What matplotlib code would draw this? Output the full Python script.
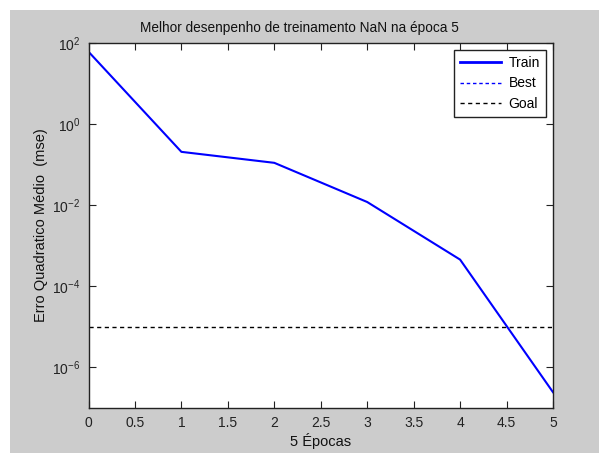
import numpy as np
import matplotlib.pyplot as plt
from matplotlib.patches import Rectangle

plt.rcParams['font.family'] = ['Liberation Sans', 'DejaVu Sans']
plt.rcParams['mathtext.fontset'] = 'custom'
plt.rcParams['mathtext.rm'] = 'Liberation Sans'
plt.rcParams['mathtext.it'] = 'Liberation Sans:italic'
plt.rcParams['mathtext.bf'] = 'Liberation Sans:bold'

# Training performance per epoch
epochs = [0, 1, 2, 3, 4, 5]
train_mse = [61.0, 0.207, 0.111, 0.012, 4.56e-4, 2.45e-7]
best_epoch = [5]
best_mse = [np.nan]
goal_mse = 1e-5

title_text = "Melhor desenpenho de treinamento NaN na época 5"
x_label = "5 Épocas"
y_label = "Erro Quadratico Médio  (mse)"
x_ticks = [0, 0.5, 1, 1.5, 2, 2.5, 3, 3.5, 4, 4.5, 5]
x_tick_labels = ['0', '0.5', '1', '1.5', '2', '2.5', '3', '3.5', '4', '4.5', '5']
y_ticks = [1e-6, 1e-4, 1e-2, 1e0, 1e2]

W, H = 599, 453
fig = plt.figure(figsize=(W / 100, H / 100), dpi=100)
fig.patch.set_facecolor('white')
fig.patches.append(Rectangle((10 / W, 0), 1 - 10 / W, (H - 10) / H,
                             transform=fig.transFigure, facecolor='#cccccc',
                             edgecolor='none', zorder=-10))

left, right, top, bottom = 88.5, 553, 43, 408
ax = fig.add_axes([left / W, (H - bottom) / H, (right - left) / W, (bottom - top) / H])
ax.set_facecolor('white')

ax.plot(epochs, train_mse, color='#0000ff', lw=1.5, label='Train')
ax.plot(best_epoch, best_mse, color='#0000ff', lw=1.0, ls=(0, (2.5, 2)), label='Best')
ax.axhline(goal_mse, color='black', lw=1.0, ls=(0, (3, 2.5)), label='Goal')

ax.set_yscale('log')
ax.set_xlim(0, 5)
ax.set_ylim(1e-7, 1e2)
ax.set_xticks(x_ticks)
ax.set_xticklabels(x_tick_labels)
ax.set_yticks(y_ticks)
ax.yaxis.set_minor_locator(plt.NullLocator())

ax.tick_params(direction='in', length=5, width=0.8, top=True, right=True,
               labelsize=10, colors='#222222', labelcolor='#222222', pad=6)
for s in ax.spines.values():
    s.set_color('#222222')
    s.set_linewidth(1.0)

ax.set_title(title_text, fontsize=9.8, color='#111111', pad=8, x=0.455)
ax.set_xlabel(x_label, fontsize=10.5, color='#111111', labelpad=2)
ax.set_ylabel(y_label, fontsize=10.5, color='#111111', labelpad=3)

leg = ax.legend(loc='upper right', fontsize=10, frameon=True, fancybox=False,
                framealpha=1, edgecolor='#222222', borderpad=0.45,
                handlelength=3.0, handletextpad=0.5, labelspacing=0.45,
                borderaxespad=0.5)
leg.get_frame().set_linewidth(1.0)
leg.legend_handles[0].set_linewidth(2.0)

fig.savefig('out.png', dpi=100, facecolor=fig.get_facecolor())
